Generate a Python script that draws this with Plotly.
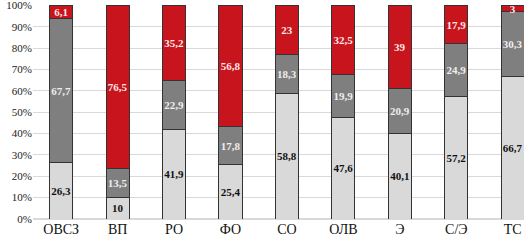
import plotly.graph_objects as go

categories = ["ОВСЗ", "ВП", "РО", "ФО", "СО", "ОЛВ", "Э", "С/Э", "ТС"]
low_vals = [26.3, 10, 41.9, 25.4, 58.8, 47.6, 40.1, 57.2, 66.7]
mid_vals = [67.7, 13.5, 22.9, 17.8, 18.3, 19.9, 20.9, 24.9, 30.3]
high_vals = [6.1, 76.5, 35.2, 56.8, 23, 32.5, 39, 17.9, 3]
tick_vals = [0, 10, 20, 30, 40, 50, 60, 70, 80, 90, 100]
tick_text = ["0%", "10%", "20%", "30%", "40%", "50%", "60%", "70%", "80%", "90%", "100%"]

def fmt(v):
    return ("%g" % v).replace(".", ",")

font_serif = "Liberation Serif"

fig = go.Figure()
series = [
    (low_vals, "#d9d9d9", "#111111"),
    (mid_vals, "#7f7f7f", "#eeeeee"),
    (high_vals, "#c8141c", "#fde8e8"),
]
for vals, color, tcolor in series:
    fig.add_trace(go.Bar(
        x=categories, y=vals,
        marker=dict(color=color, line=dict(color="#333333", width=1)),
        text=[fmt(v) for v in vals],
        textposition="inside",
        insidetextanchor="middle",
        textangle=0,
        textfont=dict(family=font_serif, size=11, color=tcolor, weight="bold"),
        width=0.41,
        showlegend=False,
        cliponaxis=False,
    ))

fig.update_layout(
    barmode="stack",
    width=524, height=243,
    margin=dict(l=33, r=0, t=5, b=24),
    paper_bgcolor="white", plot_bgcolor="white",
    uniformtext=dict(minsize=11, mode="show"),
    xaxis=dict(
        range=[-0.5, 8.2],
        tickfont=dict(family=font_serif, size=14, color="#111111"),
        showgrid=False, showline=False, ticks="",
    ),
    yaxis=dict(
        range=[0, 100.2],
        tickvals=tick_vals,
        ticktext=tick_text,
        ticklabeloverflow="allow",
        tickfont=dict(family=font_serif, size=11, color="#222222"),
        showgrid=True, gridcolor="#d9d9d9", gridwidth=1,
        zeroline=True, zerolinecolor="#d9d9d9",
        showline=False, ticks="",
    ),
)

fig.write_html(
    "out.html",
    config={"displayModeBar": False},
    post_script="document.body.style.margin='0';document.body.style.padding='0';document.body.style.overflow='hidden';",
)
